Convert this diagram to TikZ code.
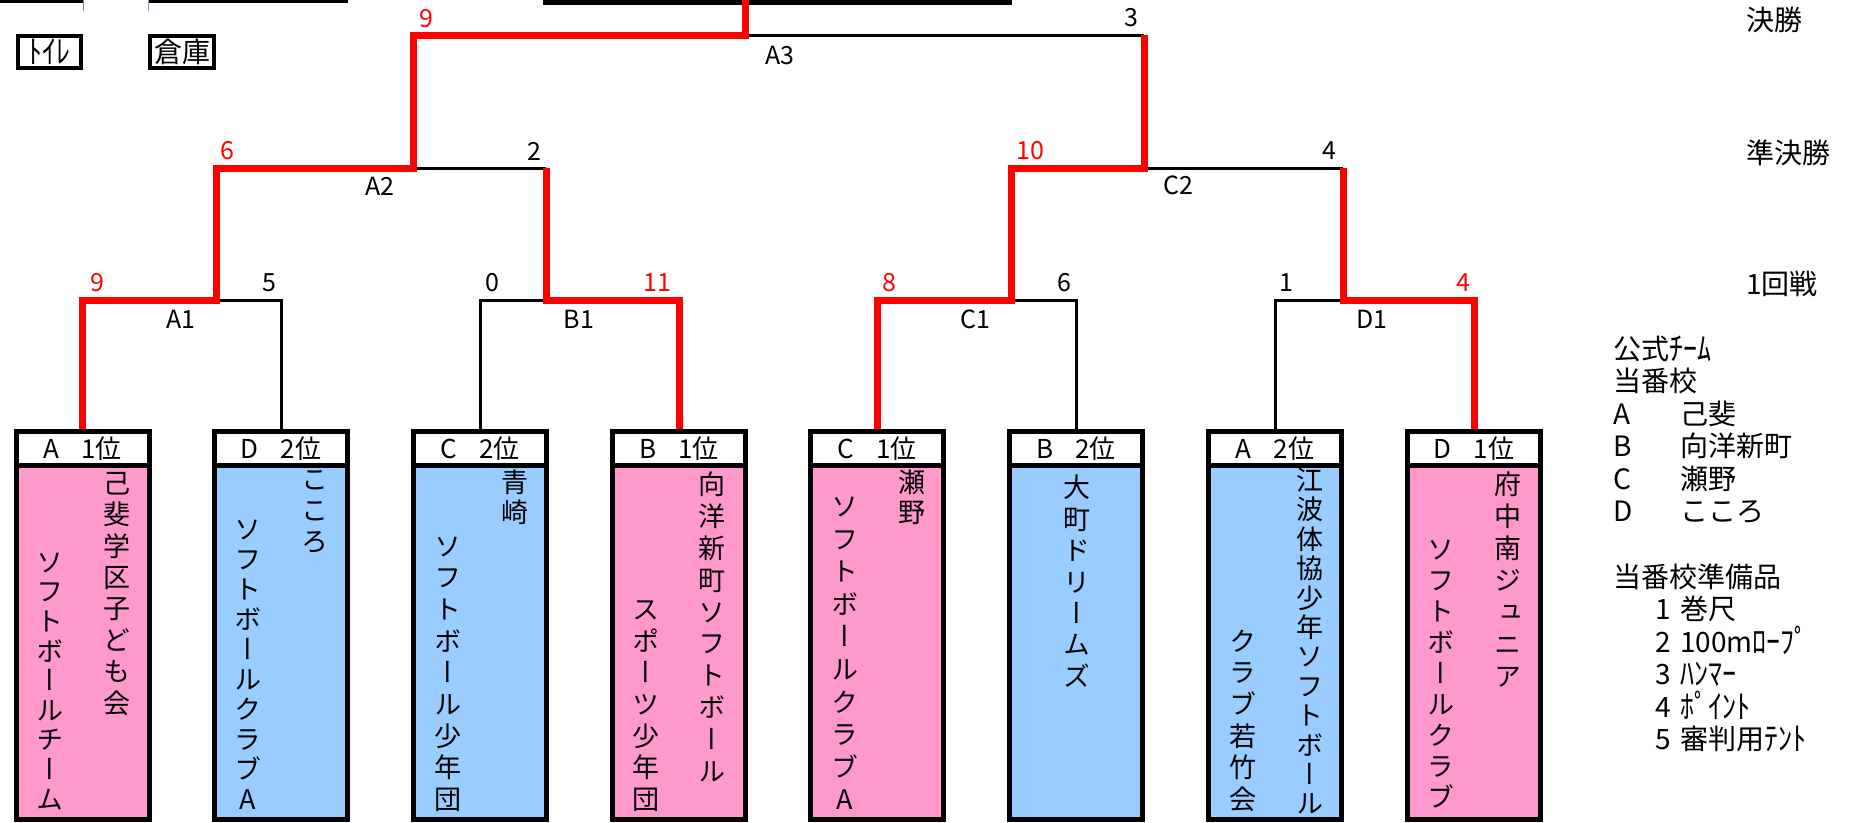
\documentclass[tikz,border=0pt]{standalone}
\usepackage{fontspec}
\usepackage{graphicx}
\setmainfont{Noto Sans CJK JP}
\newfontfamily\vjp[RawFeature=+vert]{Noto Sans CJK JP}
\newcommand\hwk[1]{\raisebox{-0.04em}{\scalebox{1}[1.15]{#1}}}
\definecolor{pinkc}{RGB}{255,153,204}
\definecolor{bluec}{RGB}{153,204,255}
\definecolor{tickblue}{RGB}{120,160,210}
\begin{document}
\begin{tikzpicture}[x=1pt,y=-1pt,
  teambox/.style={draw, line width=5, minimum width=133, minimum height=388, inner sep=0},
  headbox/.style={draw, fill=white, line width=5, minimum width=133, minimum height=34, inner sep=0, font=\fontsize{26}{26}\selectfont},
  vcol/.style={font=\vjp\fontsize{27}{#1}\selectfont, align=center, inner sep=0},
  score/.style={font=\fontsize{25}{25}\selectfont, inner sep=0},
  win/.style={score, text=red},
  matchlab/.style={font=\fontsize{25}{25}\selectfont, inner sep=0},
  roundlab/.style={font=\fontsize{28}{28}\selectfont, anchor=west, inner sep=0},
  legend/.style={font=\fontsize{28}{28}\selectfont, anchor=base west, inner sep=0},
  smallbox/.style={draw, line width=4, minimum width=63, minimum height=32, inner sep=0, font=\fontsize{28}{28}\selectfont},
  wline/.style={draw=red, line width=7},
  lline/.style={draw=black, line width=3}]
\useasboundingbox (0,0) rectangle (1852,822);

% top-left remnants
\draw[line width=2.5] (0,1.25) -- (83,1.25);
\draw[line width=1, gray] (83,0) -- (83,11);
\draw[line width=2.5] (148,1.25) -- (348,1.25);
\draw[line width=1, tickblue] (148,0) -- (148,11);
\draw[line width=4.5] (543,2.25) -- (1012,2.25);
\node[smallbox] (wc) at (49.5,52) {\hwk{ﾄｲﾚ}};
\node[smallbox, minimum width=64] (store) at (182,52) {倉庫};

% team boxes
\node[teambox, fill=pinkc] (t1) at (82.5,625.5) {};
\node[teambox, fill=bluec] (t2) at (281,625.5) {};
\node[teambox, fill=bluec] (t3) at (480,625.5) {};
\node[teambox, fill=pinkc] (t4) at (679,625.5) {};
\node[teambox, fill=pinkc] (t5) at (877,625.5) {};
\node[teambox, fill=bluec] (t6) at (1076,625.5) {};
\node[teambox, fill=bluec] (t7) at (1275,625.5) {};
\node[teambox, fill=pinkc] (t8) at (1474,625.5) {};

\node[headbox] (h1) at (82.5,448.5) {A\hspace{22pt}1位};
\node[headbox] (h2) at (281,448.5) {D\hspace{22pt}2位};
\node[headbox] (h3) at (480,448.5) {C\hspace{22pt}2位};
\node[headbox] (h4) at (679,448.5) {B\hspace{22pt}1位};
\node[headbox] (h5) at (877,448.5) {C\hspace{22pt}1位};
\node[headbox] (h6) at (1076,448.5) {B\hspace{22pt}2位};
\node[headbox] (h7) at (1275,448.5) {A\hspace{22pt}2位};
\node[headbox] (h8) at (1474,448.5) {D\hspace{22pt}1位};

% vertical team names
\node[vcol=31.4, anchor=north] (n1r) at (116.5,472) {己\\斐\\学\\区\\子\\ど\\も\\会};
\node[vcol=29.6, anchor=south] (n1l) at (49.5,810) {ソ\\フ\\ト\\ボ\\ー\\ル\\チ\\ー\\ム};
\node[vcol=31, anchor=north] (n2r) at (315,470) {こ\\こ\\ろ};
\node[vcol=30, anchor=south] (n2l) at (248,810) {ソ\\フ\\ト\\ボ\\ー\\ル\\ク\\ラ\\ブ\\A};
\node[vcol=30, anchor=north] (n3r) at (515,470) {青\\崎};
\node[vcol=31.7, anchor=south] (n3l) at (448,812) {ソ\\フ\\ト\\ボ\\ー\\ル\\少\\年\\団};
\node[vcol=31.8, anchor=north] (n4r) at (712,472) {向\\洋\\新\\町\\ソ\\フ\\ト\\ボ\\ー\\ル};
\node[vcol=31.7, anchor=south] (n4l) at (646,812) {ス\\ポ\\ー\\ツ\\少\\年\\団};
\node[vcol=30, anchor=north] (n5r) at (912,470) {瀬\\野};
\node[vcol=32.6, anchor=south] (n5l) at (845,810) {ソ\\フ\\ト\\ボ\\ー\\ル\\ク\\ラ\\ブ\\A};
\node[vcol=31.4, anchor=north] (n6) at (1077,475) {大\\町\\ド\\リ\\ー\\ム\\ズ};
\node[vcol=29.4, anchor=north] (n7r) at (1310,468) {江\\波\\体\\協\\少\\年\\ソ\\フ\\ト\\ボ\\ー\\ル};
\node[vcol=31.7, anchor=south] (n7l) at (1243,812) {ク\\ラ\\ブ\\若\\竹\\会};
\node[vcol=32, anchor=north] (n8r) at (1508,472) {府\\中\\南\\ジ\\ュ\\ニ\\ア};
\node[vcol=31, anchor=south] (n8l) at (1441,808) {ソ\\フ\\ト\\ボ\\ー\\ル\\ク\\ラ\\ブ};

% bracket junctions
\coordinate (A1) at (216,300);
\coordinate (B1) at (546,300);
\coordinate (C1) at (1011,300);
\coordinate (D1) at (1343,300);
\coordinate (A2) at (413,168);
\coordinate (C2) at (1144,168);
\coordinate (A3) at (745,35);
\coordinate (top) at (745,0);

% losing lines
\draw[lline] (A1) -| (t2.north);
\draw[lline] (t3.north) |- (B1);
\draw[lline] (C1) -| (t6.north);
\draw[lline] (t7.north) |- (D1);
\draw[lline] (A2) -- (B1 |- A2);
\draw[lline] (C2) -- (D1 |- C2);
\draw[lline] (A3) -- (C2 |- A3);

% winning lines
\draw[wline] (t1.north) |- (A1) |- (A2) |- (A3) -- (top);
\draw[wline] (t4.north) |- (B1) -- (B1 |- A2);
\draw[wline] (t5.north) |- (C1) |- (C2) -- (C2 |- A3);
\draw[wline] (t8.north) |- (D1) -- (D1 |- C2);

% scores
\node[win] (s1) at (97,283) {9};
\node[score] (s2) at (269,283) {5};
\node[score] (s3) at (492,283) {0};
\node[win] (s4) at (657,283) {11};
\node[win] (s5) at (889,283) {8};
\node[score] (s6) at (1064,283) {6};
\node[score] (s7) at (1286,283) {1};
\node[win] (s8) at (1463,283) {4};
\node[win] (sa) at (227,151) {6};
\node[score] (sb) at (534,151) {2};
\node[win] (sc) at (1030,151) {10};
\node[score] (sd) at (1329,151) {4};
\node[win] (se) at (426,18.5) {9};
\node[score] (sf) at (1131,18) {3};

% match names
\node[matchlab] (mA1) at (181,319) {A1};
\node[matchlab] (mB1) at (579,319) {B1};
\node[matchlab] (mC1) at (975,319) {C1};
\node[matchlab] (mD1) at (1372,319) {D1};
\node[matchlab] (mA2) at (380,186) {A2};
\node[matchlab] (mC2) at (1178,185) {C2};
\node[matchlab] (mA3) at (780,55) {A3};

% round labels
\node[roundlab] (r3) at (1746,20) {決勝};
\node[roundlab] (r2) at (1746,153) {準決勝};
\node[roundlab] (r1) at (1746,284) {1回戦};

% legend
\node[legend] (g0) at (1613,359) {公式\hwk{ﾁｰﾑ}};
\node[legend] (g1) at (1613,391.5) {当番校};
\node[legend] (g2) at (1613,424) {\makebox[67pt][l]{A}己斐};
\node[legend] (g3) at (1613,456.5) {\makebox[67pt][l]{B}向洋新町};
\node[legend] (g4) at (1613,489) {\makebox[67pt][l]{C}瀬野};
\node[legend] (g5) at (1613,521.5) {\makebox[67pt][l]{D}こころ};
\node[legend] (g6) at (1613,587) {当番校準備品};
\node[legend] (g7) at (1655,619.5) {\makebox[25pt][l]{1}巻尺};
\node[legend] (g8) at (1655,652) {\makebox[25pt][l]{2}100m\hwk{ﾛｰﾌﾟ}};
\node[legend] (g9) at (1655,684.5) {\makebox[25pt][l]{3}\hwk{ﾊﾝﾏｰ}};
\node[legend] (g10) at (1655,717) {\makebox[25pt][l]{4}\hwk{ﾎﾟｲﾝﾄ}};
\node[legend] (g11) at (1655,749.5) {\makebox[25pt][l]{5}審判用\hwk{ﾃﾝﾄ}};
\end{tikzpicture}
\end{document}
